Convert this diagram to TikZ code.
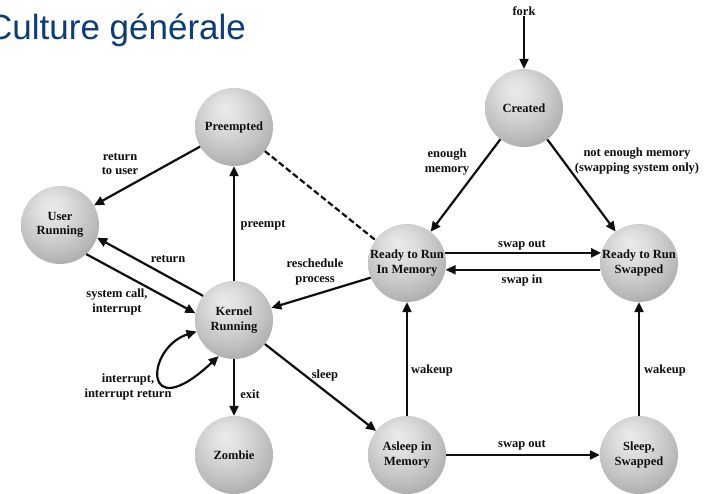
\documentclass[tikz,border=0pt]{standalone}
\usepackage{fontspec}
\setmainfont{Liberation Serif}
\newfontfamily\titlefont{Liberation Sans}
\usetikzlibrary{arrows.meta}
\definecolor{titleblue}{RGB}{12,60,122}
\definecolor{ink}{RGB}{15,15,15}
\pgfdeclareradialshading{ballgray}{\pgfpoint{-6bp}{12bp}}{%
  color(0bp)=(black!8); color(10bp)=(black!13); color(25bp)=(black!25);
  color(40bp)=(black!40); color(52bp)=(black!50); color(70bp)=(black!58)}
\begin{document}
\begin{tikzpicture}[x=1pt,y=-1pt,
  state/.style={circle, minimum size=78pt, inner sep=0pt, shading=ballgray,
    align=center, text=ink, font=\bfseries\fontsize{12.5}{14.5}\selectfont},
  lbl/.style={align=center, inner sep=0pt, text=ink, font=\bfseries\fontsize{12.5}{14.5}\selectfont},
  arr/.style={draw=ink, line width=2.2pt, -{Triangle[length=10pt,width=9pt]}},
  dbl/.style={draw=ink, line width=2.2pt, {Triangle[length=10pt,width=9pt]}-{Triangle[length=10pt,width=9pt]}},
  dsh/.style={draw=ink, line width=2.2pt, dash pattern=on 6pt off 3pt}]
\useasboundingbox (0,0) rectangle (713,494);
\fill[white] (0,0) rectangle (713,494);

\node[anchor=base west, inner sep=0pt, text=titleblue, font=\titlefont\fontsize{35}{40}\selectfont] (title) at (-13,40) {Culture générale};

% states
\node[state] (pre) at (234,127) {Preempted};
\node[state] (cre) at (524,108) {Created};
\node[state] (ur)  at (60,225)  {User\\Running};
\node[state] (kr)  at (234,320) {Kernel\\Running};
\node[state] (zo)  at (234,455) {Zombie};
\node[state] (rm)  at (407,263) {Ready to Run\\In Memory};
\node[state] (rs)  at (639,263) {Ready to Run\\Swapped};
\node[state] (am)  at (407,455) {Asleep in\\Memory};
\node[state] (ss)  at (639,455) {Sleep,\\Swapped};
\node[lbl] (fork) at (524,11) {fork};

% labels
\node[lbl] (l1) at (447,162) {enough\\memory};
\node[lbl] (l2) at (637,161) {not enough memory\\(swapping system only)};
\node[lbl] (l3) at (522,245) {swap out};
\node[lbl] (l4) at (522,280) {swap in};
\node[lbl] (l5) at (432,370) {wakeup};
\node[lbl] (l6) at (665,370) {wakeup};
\node[lbl] (l7) at (522,445) {swap out};
\node[lbl] (l8) at (325,375) {sleep};
\node[lbl] (l9) at (250,394) {exit};
\node[lbl] (l10) at (128,387) {interrupt,\\interrupt return};
\node[lbl] (l11) at (117,302) {system call,\\interrupt};
\node[lbl] (l12) at (168,259) {return};
\node[lbl] (l13) at (263,225) {preempt};
\node[lbl] (l14) at (120,164) {return\\to user};
\node[lbl] (l15) at (315,272) {reschedule\\process};

% connectors
\draw[arr] (fork) -- (cre);
\draw[arr] (cre) -- (rm);
\draw[arr] (cre) -- (rs);
\draw[arr] (rm.15) -- (rs.165);
\draw[arr] (rs.190) -- (rm.-10);
\draw[arr] (am) -- (rm);
\draw[arr] (ss) -- (rs);
\draw[arr] (am) -- (ss);
\draw[arr] (kr) -- (am);
\draw[arr] (kr) -- (zo);
\draw[arr] (kr) -- (pre);
\draw[arr] (ur.-48) -- (kr.170);
\draw[arr] (kr.142) -- (ur.-19);
\draw[arr] (pre.210) -- (ur.30);
\draw[arr] (rm.202) -- (kr.18);
\draw[dsh] (pre.-38) -- (rm.144);
\draw[dbl] (kr.197) .. controls (145,348) and (142,428) .. (kr.247);
\end{tikzpicture}
\end{document}
